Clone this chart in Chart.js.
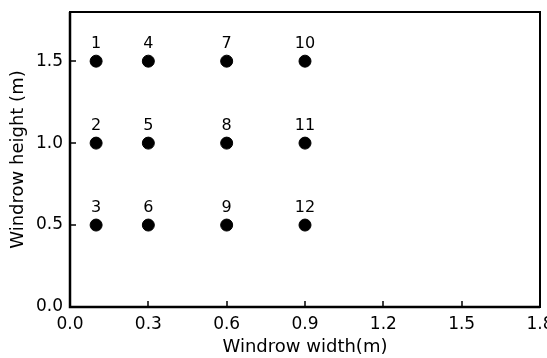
<!DOCTYPE html>
<html>
<head>
<meta charset="utf-8">
<script src="https://cdn.jsdelivr.net/npm/chart.js@4/dist/chart.umd.min.js"></script>
<style>
  html, body { margin: 0; padding: 0; background: #fff; }
  #wrap { width: 547px; height: 358px; }
</style>
</head>
<body>
<div id="wrap"><canvas id="chart" width="547" height="358"></canvas></div>
<script>
// windrow positions, numbered 1..12
const pointIds = ['1', '2', '3', '4', '5', '6', '7', '8', '9', '10', '11', '12'];
const widths  = [0.1, 0.1, 0.1, 0.3, 0.3, 0.3, 0.6, 0.6, 0.6, 0.9, 0.9, 0.9];
const heights = [1.5, 1.0, 0.5, 1.5, 1.0, 0.5, 1.5, 1.0, 0.5, 1.5, 1.0, 0.5];
const xTicks = [0.0, 0.3, 0.6, 0.9, 1.2, 1.5, 1.8];
const yTicks = [0.0, 0.5, 1.0, 1.5];

const FONT = "'DejaVu Sans', sans-serif";

// frame, inward ticks and point numbers
const decorPlugin = {
  id: 'decor',
  afterDatasetsDraw(chart) {
    const ctx = chart.ctx;
    const a = chart.chartArea;
    const xs = chart.scales.x, ys = chart.scales.y;
    ctx.save();
    ctx.strokeStyle = '#000';
    ctx.lineWidth = 2;
    ctx.strokeRect(a.left, a.top, a.right - a.left, a.bottom - a.top);
    // left and bottom axes a bit heavier
    ctx.lineWidth = 2.5;
    ctx.beginPath();
    ctx.moveTo(a.left, a.top);
    ctx.lineTo(a.left, a.bottom);
    ctx.lineTo(a.right, a.bottom);
    ctx.stroke();

    ctx.lineWidth = 1.5;
    ctx.beginPath();
    xTicks.forEach(v => {
      const px = Math.round(xs.getPixelForValue(v));
      ctx.moveTo(px, a.bottom);
      ctx.lineTo(px, a.bottom - 6);
    });
    yTicks.forEach(v => {
      const py = Math.round(ys.getPixelForValue(v));
      ctx.moveTo(a.left, py);
      ctx.lineTo(a.left + 6, py);
    });
    ctx.stroke();

    // numbers above the dots
    ctx.fillStyle = '#000';
    ctx.font = '16px ' + FONT;
    ctx.textAlign = 'center';
    ctx.textBaseline = 'middle';
    const meta = chart.getDatasetMeta(0);
    meta.data.forEach((pt, i) => {
      ctx.fillText(pointIds[i], pt.x, pt.y - 17);
    });
    ctx.restore();
  }
};

const ctx = document.getElementById('chart').getContext('2d');
new Chart(ctx, {
  type: 'scatter',
  data: {
    datasets: [{
      data: widths.map((w, i) => ({ x: w, y: heights[i] })),
      backgroundColor: '#000',
      borderColor: '#000',
      pointRadius: 6,
      pointHoverRadius: 6
    }]
  },
  options: {
    responsive: false,
    animation: false,
    layout: { padding: { top: 12, right: 5, left: 0, bottom: 0 } },
    plugins: {
      legend: { display: false },
      tooltip: { enabled: false }
    },
    scales: {
      x: {
        type: 'linear',
        min: 0,
        max: 1.8,
        afterBuildTicks(scale) { scale.ticks = xTicks.map(v => ({ value: v })); },
        afterFit(scale) {
          scale.height = 51;
          scale.paddingLeft = 0;
          scale.paddingRight = 0;
        },
        grid: { display: false, drawTicks: false },
        border: { display: false },
        ticks: {
          color: '#000',
          padding: 7,
          font: { family: FONT, size: 17 },
          maxRotation: 0,
          callback: v => Number(v).toFixed(1)
        },
        title: {
          display: true,
          text: 'Windrow width(m)',
          color: '#000',
          font: { family: FONT, size: 18 },
          padding: { top: 0, bottom: 0 }
        }
      },
      y: {
        type: 'linear',
        min: 0,
        max: 1.8,
        afterBuildTicks(scale) { scale.ticks = yTicks.map(v => ({ value: v })); },
        afterFit(scale) {
          scale.width = 70;
          scale.paddingTop = 0;
          scale.paddingBottom = 0;
        },
        grid: { display: false, drawTicks: false },
        border: { display: false },
        ticks: {
          color: '#000',
          padding: 7,
          font: { family: FONT, size: 17 },
          callback: v => Number(v).toFixed(1)
        },
        title: {
          display: true,
          text: 'Windrow height (m)',
          color: '#000',
          font: { family: FONT, size: 18 },
          padding: { top: 8, bottom: 0 }
        }
      }
    }
  },
  plugins: [decorPlugin]
});
</script>
</body>
</html>
